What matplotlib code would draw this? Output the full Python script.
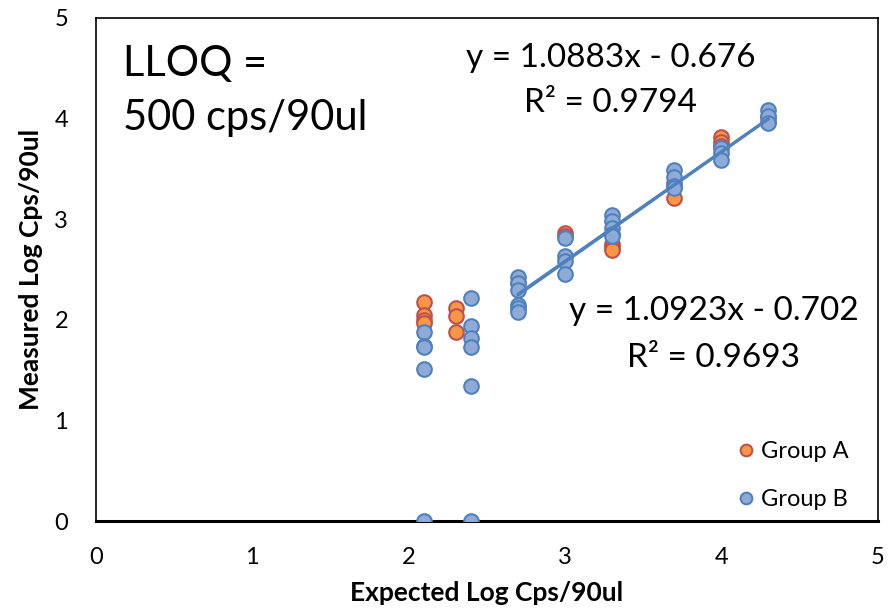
import numpy as np
import matplotlib
matplotlib.use("Agg")
from matplotlib import pyplot as plt

plt.rcParams['font.family'] = ['Lato', 'DejaVu Sans']

# Group A (orange)
a_x = [2.1, 2.1, 2.1, 2.1, 2.3, 2.3, 2.3, 2.7, 3.0, 3.0, 3.3, 3.3, 3.3,
       3.7, 3.7, 4.0, 4.0, 4.0, 4.3, 4.3]
a_y = [2.18, 2.05, 2.00, 1.97, 2.12, 2.04, 1.88, 2.37, 2.86, 2.83, 2.75, 2.72, 2.69,
       3.36, 3.21, 3.82, 3.77, 3.73, 4.02, 3.97]

# Group B (blue)
b_x = [2.1, 2.1, 2.1, 2.1, 2.1, 2.4, 2.4, 2.4, 2.4, 2.4, 2.4,
       2.7, 2.7, 2.7, 2.7, 2.7, 2.7, 3.0, 3.0, 3.0, 3.0,
       3.3, 3.3, 3.3, 3.3, 3.3, 3.7, 3.7, 3.7, 3.7,
       4.0, 4.0, 4.0, 4.3, 4.3, 4.3]
b_y = [1.88, 1.74, 1.73, 1.51, 0.0, 2.22, 1.94, 1.82, 1.73, 1.34, 0.0,
       2.43, 2.37, 2.30, 2.15, 2.12, 2.08, 2.81, 2.63, 2.58, 2.46,
       3.04, 2.98, 2.91, 2.85, 2.83, 3.49, 3.42, 3.33, 3.31,
       3.71, 3.66, 3.59, 4.09, 4.03, 3.96]

# trendlines (coefficients shown on the chart)
fit_range = [2.7, 4.3]
fit_a = (1.0883, -0.676)
fit_b = (1.0923, -0.702)

fig = plt.figure(figsize=(8.92, 6.10), dpi=100)
ax = fig.add_axes([0.1076, 0.1459, 0.8764, 0.8246])

ax.plot(a_x, a_y, 'o', ms=10.5, mfc='#F79646', mec='#C0504D', mew=1.5,
        label='Group A', zorder=3)
ax.plot(b_x, b_y, 'o', ms=10.5, mfc='#8EABD8', mec='#4F81BD', mew=1.5,
        label='Group B', zorder=4)

fx = np.array(fit_range)
ax.plot(fx, fit_a[0] * fx + fit_a[1], color='#4F81BD', lw=1.5, zorder=5)
ax.plot(fx, fit_b[0] * fx + fit_b[1], color='#4F81BD', lw=2.2, zorder=6)

ax.set_xlim(0, 5)
ax.set_ylim(0, 5)
ax.set_xticks([0, 1, 2, 3, 4, 5])
ax.set_yticks([0, 1, 2, 3, 4, 5])
ax.tick_params(length=0, labelsize=17)
ax.tick_params(axis='x', pad=19)
ax.tick_params(axis='y', pad=20)
for s in ['left', 'top', 'right']:
    ax.spines[s].set_linewidth(1.2)
ax.spines['bottom'].set_linewidth(2.2)
for sp in ax.spines.values():
    sp.set_clip_on(False)

ax.set_xlabel('Expected Log Cps/90ul', fontsize=19, fontweight='bold', labelpad=9)
ax.set_ylabel('Measured Log Cps/90ul', fontsize=19, fontweight='bold', labelpad=8)

ax.text(0.17, 4.42, 'LLOQ =', fontsize=30, ha='left', va='baseline')
ax.text(0.17, 3.89, '500 cps/90ul', fontsize=30, ha='left', va='baseline')
ax.text(3.29, 4.516, 'y = 1.0883x - 0.676', fontsize=24, ha='center', va='baseline')
ax.text(3.29, 4.07, 'R² = 0.9794', fontsize=24, ha='center', va='baseline')
ax.text(3.95, 2.0, 'y = 1.0923x - 0.702', fontsize=24, ha='center', va='baseline')
ax.text(3.95, 1.534, 'R² = 0.9693', fontsize=24, ha='center', va='baseline')

ax.legend(loc='lower right', bbox_to_anchor=(0.99, -0.02), frameon=False,
          fontsize=17, markerscale=0.8, handletextpad=0.05, labelspacing=1.12,
          handlelength=1.2)

fig.savefig('out.png', dpi=100)
